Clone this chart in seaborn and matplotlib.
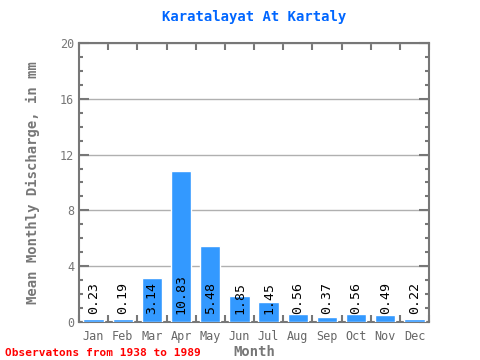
import matplotlib
matplotlib.use("Agg")
import matplotlib.pyplot as plt
from matplotlib.ticker import MultipleLocator, FixedLocator
import seaborn as sns
import pandas as pd

months = ['Jan', 'Feb', 'Mar', 'Apr', 'May', 'Jun',
          'Jul', 'Aug', 'Sep', 'Oct', 'Nov', 'Dec']
discharge = [0.23, 0.19, 3.14, 10.83, 5.48, 1.85,
             1.45, 0.56, 0.37, 0.56, 0.49, 0.22]

df = pd.DataFrame({'Month': months, 'Discharge': discharge})

sns.set_style("white")
plt.rcParams['font.family'] = ['DejaVu Sans Mono']

grey = '#777777'
fig = plt.figure(figsize=(4.8, 3.6), dpi=100)
ax = fig.add_axes([0.1646, 0.1056, 0.7292, 0.775])

sns.barplot(data=df, x='Month', y='Discharge', color='#3399ff',
            saturation=1, width=0.7, ax=ax, zorder=3)

for i, v in enumerate(discharge):
    ax.text(i, 0.6, f'{v:.2f}', rotation=90, ha='center', va='bottom',
            fontsize=9.5, color='black', zorder=4)

ax.set_xlim(-0.5, 11.5)
ax.set_ylim(0, 20)
ax.yaxis.set_major_locator(MultipleLocator(4))
ax.yaxis.set_minor_locator(MultipleLocator(1))
ax.xaxis.set_minor_locator(FixedLocator([i + 0.5 for i in range(-1, 12)]))
ax.grid(axis='y', which='major', color='#b0b0b0', linewidth=1, zorder=0)

ax.tick_params(axis='y', which='major', direction='in', length=7, width=1.5,
               color=grey, left=True, right=True, labelsize=8.5, labelcolor=grey)
ax.tick_params(axis='y', which='minor', direction='in', length=3, width=1.5,
               color=grey, left=True, right=True)
ax.tick_params(axis='x', which='major', length=0, labelsize=8.5,
               labelcolor='#666666', pad=6)
ax.tick_params(axis='x', which='minor', direction='in', length=5, width=1.5,
               color=grey, bottom=True, top=True)

for s in ax.spines.values():
    s.set_color(grey)
    s.set_linewidth(1.5)
    s.set_visible(True)

ax.set_xlabel('Month', fontsize=10, color=grey, fontweight='bold', labelpad=1)
ax.set_ylabel('Mean Monthly Discharge, in mm', fontsize=10, color=grey,
              fontweight='bold', labelpad=14)
ax.set_title('Karatalayat At Kartaly', fontsize=10, color='#0066ff',
             fontweight='bold', pad=16)

fig.text(0.01, 0.012, 'Observatons from 1938 to 1989', fontsize=8,
         color='red', fontweight='bold')

fig.savefig('out.png', dpi=100)
